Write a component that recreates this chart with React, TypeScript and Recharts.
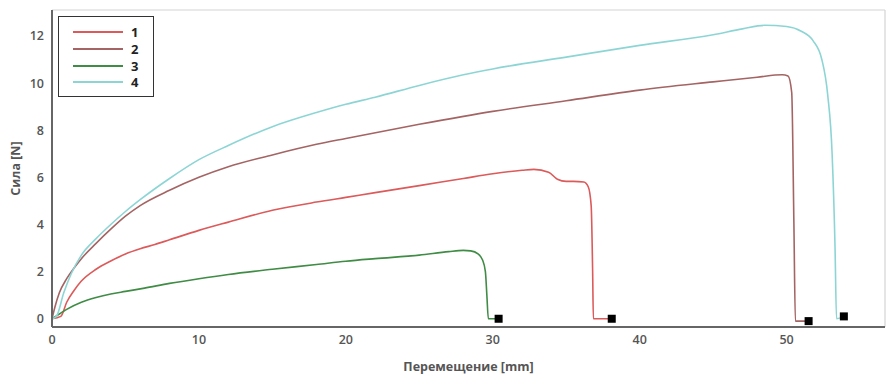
import React from 'react';
import {
    ComposedChart,
    Line,
    Scatter,
    XAxis,
    YAxis,
    CartesianGrid,
} from 'recharts';

// sample 1 (red)
const s1X = [0, 0.6, 1, 1.5, 2, 3, 4, 5, 6, 7, 8, 10, 12, 15, 18, 20, 22, 25, 28, 30, 32, 32.8, 33.8, 34.4, 35, 35.5, 36.2, 36.5, 36.7, 36.8, 36.85, 37.9];
const s1Y = [0, 0.1, 0.7, 1.2, 1.6, 2.1, 2.45, 2.75, 2.97, 3.15, 3.35, 3.75, 4.1, 4.6, 4.95, 5.15, 5.35, 5.65, 5.95, 6.15, 6.3, 6.34, 6.22, 5.92, 5.83, 5.83, 5.8, 5.6, 4.8, 2, 0, 0];

// sample 2 (brown)
const s2X = [0, 0.2, 0.5, 1, 1.5, 2, 3, 4, 5, 6, 8, 10, 12, 15, 18, 20, 25, 30, 35, 40, 45, 48, 49.7, 50.1, 50.35, 50.5, 50.6, 51.5];
const s2Y = [0, 0.5, 1.1, 1.7, 2.15, 2.55, 3.2, 3.8, 4.35, 4.8, 5.45, 6.0, 6.45, 6.95, 7.4, 7.65, 8.25, 8.8, 9.25, 9.7, 10.05, 10.25, 10.35, 10.3, 9.6, 4, -0.1, -0.1];

// sample 3 (green)
const s3X = [0, 0.5, 1, 2, 3, 4, 5, 6.3, 8, 10, 12, 15, 18, 20, 22, 25, 27, 28, 28.5, 29, 29.3, 29.5, 29.6, 29.7, 30.4];
const s3Y = [0, 0.2, 0.4, 0.7, 0.9, 1.05, 1.16, 1.3, 1.5, 1.7, 1.88, 2.1, 2.3, 2.44, 2.55, 2.7, 2.85, 2.9, 2.88, 2.75, 2.5, 2.0, 1.0, 0, 0];

// sample 4 (cyan)
const s4X = [0, 0.3, 0.8, 1.3, 2, 3, 4, 5, 6, 8, 10, 12, 15, 18, 20, 22, 25, 28, 30, 35, 40, 45, 47, 48.5, 50, 51, 51.8, 52.4, 52.8, 53.1, 53.3, 53.4, 53.9];
const s4Y = [0, 0.1, 1.1, 1.9, 2.7, 3.4, 4.0, 4.55, 5.05, 5.95, 6.75, 7.35, 8.15, 8.75, 9.1, 9.4, 9.9, 10.35, 10.6, 11.1, 11.6, 12.05, 12.3, 12.45, 12.4, 12.2, 11.8, 11.0, 9.5, 7, 3, 0, 0.1];

// break points (end markers)
const endX = [38.1, 51.5, 30.4, 53.9];
const endY = [0.0, -0.1, 0.0, 0.1];

const names = ['1', '2', '3', '4'];
const colors = ['#dc5a5a', '#a46464', '#3f8c45', '#8dd5d5'];

const xTicks = [0, 10, 20, 30, 40, 50];
const yTicks = [0, 2, 4, 6, 8, 10, 12];

const toPoints = (xs: number[], ys: number[]) => xs.map((x, i) => ({ x, y: ys[i] }));
const series = [toPoints(s1X, s1Y), toPoints(s2X, s2Y), toPoints(s3X, s3Y), toPoints(s4X, s4Y)];
const endPoints = toPoints(endX, endY);

const font = '"Open Sans", "DejaVu Sans", sans-serif';
const tickStyle = { fontSize: 12.5, fontWeight: 600, fill: '#555', fontFamily: font };

const SquareMark = (props: any) => {
    const { cx, cy } = props;
    return <rect x={cx - 4} y={cy - 4} width={8} height={8} fill="#000" />;
};

const LegendBox = () => (
    <div
        style={{
            position: 'absolute',
            left: 58,
            top: 16,
            border: '1.5px solid #333',
            background: '#fff',
            width: 96,
            height: 81,
            boxSizing: 'border-box',
            padding: '7px 0 0 14px',
            fontFamily: font,
        }}
    >
        {names.map((n, i) => (
            <div key={n} style={{ display: 'flex', alignItems: 'center', height: 16.7 }}>
                <div style={{ width: 50, height: 2, background: colors[i] }} />
                <span style={{ marginLeft: 8, fontSize: 13, fontWeight: 700, color: '#222' }}>{n}</span>
            </div>
        ))}
    </div>
);

const App: React.FC = () => {
    return (
        <div style={{ position: 'absolute', left: 0, top: 0, width: 895, height: 381, background: '#fff' }}>
            <ComposedChart width={895} height={381} margin={{ top: 10, right: 10, bottom: 0, left: 0 }}>
                <CartesianGrid stroke="#d4d4d4" strokeWidth={1.2} />
                <XAxis
                    xAxisId="main"
                    dataKey="x"
                    type="number"
                    domain={[0, 56.7]}
                    ticks={xTicks}
                    allowDataOverflow
                    height={54}
                    tickLine={false}
                    axisLine={{ stroke: '#666', strokeWidth: 2 }}
                    tick={tickStyle}
                    label={{
                        value: 'Перемещение [mm]',
                        position: 'insideBottom',
                        offset: 10,
                        style: { fontSize: 12.5, fontWeight: 700, fill: '#555', fontFamily: font },
                    }}
                />
                <XAxis xAxisId="top" orientation="top" type="number" domain={[0, 56.7]} height={0} tick={false} tickLine={false} axisLine={{ stroke: '#777', strokeWidth: 1.5 }} />
                <YAxis
                    yAxisId="main"
                    type="number"
                    domain={[-0.35, 13.1]}
                    ticks={yTicks}
                    allowDataOverflow
                    width={52}
                    tickLine={false}
                    axisLine={{ stroke: '#666', strokeWidth: 2 }}
                    tick={tickStyle}
                    label={{
                        value: 'Сила [N]',
                        angle: -90,
                        position: 'insideLeft',
                        offset: 16,
                        style: { textAnchor: 'middle', fontSize: 12.5, fontWeight: 700, fill: '#555', fontFamily: font },
                    }}
                />
                <YAxis yAxisId="right" orientation="right" type="number" domain={[-0.35, 13.1]} width={0} tick={false} tickLine={false} axisLine={{ stroke: '#777', strokeWidth: 1.5 }} />
                {series.map((d, i) => (
                    <Line
                        key={names[i]}
                        xAxisId="main"
                        yAxisId="main"
                        data={d}
                        dataKey="y"
                        name={names[i]}
                        type="monotone"
                        stroke={colors[i]}
                        strokeWidth={1.6}
                        dot={false}
                        isAnimationActive={false}
                    />
                ))}
                <Scatter
                    xAxisId="main"
                    yAxisId="main"
                    data={endPoints}
                    dataKey="y"
                    shape={SquareMark}
                    legendType="none"
                    isAnimationActive={false}
                />
            </ComposedChart>
            <LegendBox />
        </div>
    );
};

export default App;
